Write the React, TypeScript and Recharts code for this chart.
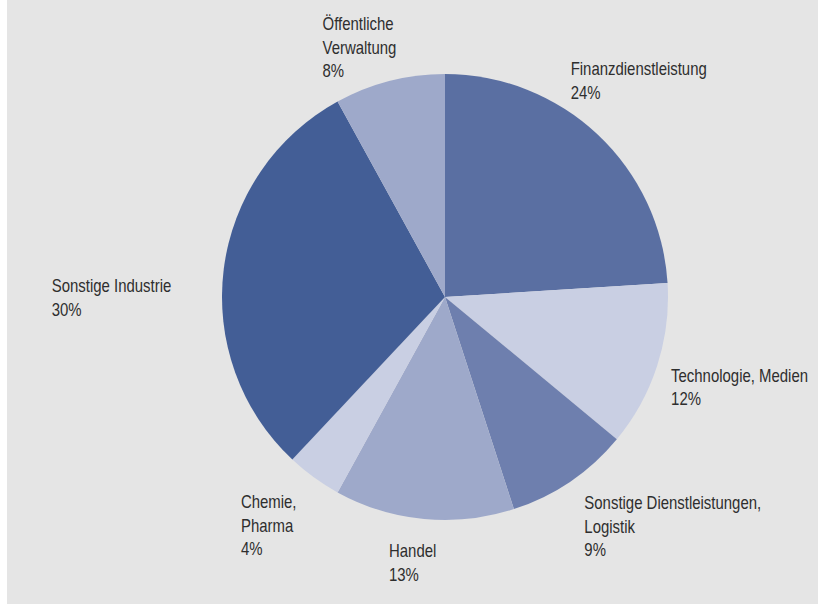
import React from "react";
import { PieChart, Pie, Cell } from "recharts";

// Branchenverteilung, clockwise from 12 o'clock
const categories = [
  "Finanzdienstleistung",
  "Technologie, Medien",
  "Sonstige Dienstleistungen,\nLogistik",
  "Handel",
  "Chemie,\nPharma",
  "Sonstige Industrie",
  "Öffentliche\nVerwaltung",
];
const shares = [24, 12, 9, 13, 4, 30, 8];

const COLORS = ["#5a6fa2", "#c9cfe3", "#6e7fae", "#9ea9ca", "#c9cfe3", "#435e96", "#9ea9ca"];

// label nudge from the slice's outer mid point (layout only)
const LABEL_NUDGE: [number, number][] = [
  [-27, -59],
  [14, 16],
  [14, 28],
  [-35, 38],
  [-73, 31],
  [-172, 23],
  [-67, -51],
];

// no narrow font installed -> squeeze Liberation Sans horizontally
const FONT = "'Liberation Sans', Arial, sans-serif";
const SQUEEZE = 0.83;
const LINE_H = 23.5;
const RAD = Math.PI / 180;

const data = categories.map((name, i) => ({ name, value: shares[i] }));

function renderLabel(props: any) {
  const { cx, cy, midAngle, outerRadius, index, name, value } = props;
  const px = cx + outerRadius * Math.cos(-midAngle * RAD);
  const py = cy + outerRadius * Math.sin(-midAngle * RAD);
  const [dx, dy] = LABEL_NUDGE[index];
  const x = px + dx;
  const y = py + dy;
  const lines = [...String(name).split("\n"), `${value}%`];
  return (
    <g transform={`translate(${x},${y}) scale(${SQUEEZE},1)`}>
      <text x={0} y={0} fill="#2e2e2e" fontSize={18} fontFamily={FONT} textAnchor="start">
        {lines.map((l, i) => (
          <tspan key={i} x={0} y={i * LINE_H}>
            {l}
          </tspan>
        ))}
      </text>
    </g>
  );
}

export default function App() {
  return (
    <>
      <div style={{ position: "fixed", left: 0, top: 0, right: 0, bottom: 0, background: "#ffffff" }} />
      <div style={{ position: "fixed", left: 7, top: 0, right: 0, bottom: 0, background: "#e5e5e5" }} />
      <div style={{ position: "fixed", left: 0, top: 0 }}>
        <PieChart width={818} height={604} margin={{ top: 0, right: 0, bottom: 0, left: 0 }}>
          <Pie
            data={data}
            dataKey="value"
            nameKey="name"
            cx={445}
            cy={297}
            outerRadius={223}
            startAngle={90}
            endAngle={-270}
            stroke="none"
            label={renderLabel}
            labelLine={false}
            isAnimationActive={false}
          >
            {data.map((d, i) => (
              <Cell key={d.name} fill={COLORS[i]} />
            ))}
          </Pie>
        </PieChart>
      </div>
    </>
  );
}
